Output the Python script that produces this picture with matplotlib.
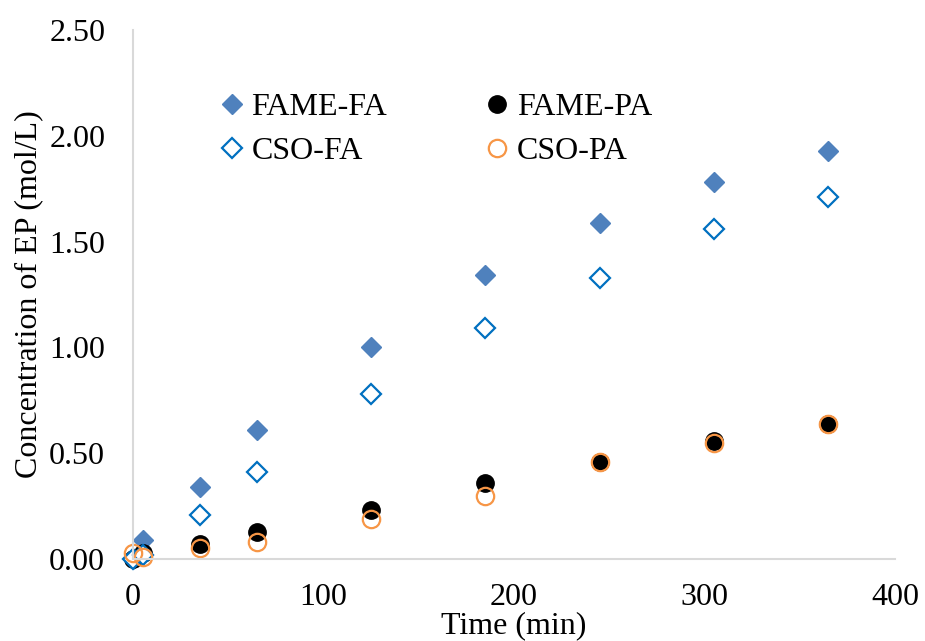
import matplotlib.pyplot as plt
import numpy as np

plt.rcParams['font.family'] = ['Liberation Serif', 'DejaVu Serif']

time = [0, 5, 35, 65, 125, 185, 245, 305, 365]
fame_fa = [0.00, 0.09, 0.34, 0.61, 1.00, 1.34, 1.59, 1.78, 1.93]
fame_pa = [0.00, 0.03, 0.07, 0.13, 0.23, 0.36, 0.46, 0.56, 0.64]
cso_fa = [0.00, 0.02, 0.21, 0.41, 0.78, 1.09, 1.33, 1.56, 1.71]
cso_pa = [0.03, 0.01, 0.05, 0.08, 0.19, 0.30, 0.46, 0.55, 0.64]

fig = plt.figure(figsize=(9.25, 6.41), dpi=100)
ax = fig.add_axes([0.1438, 0.1279, 0.8238, 0.8253])

h1, = ax.plot(time, fame_fa, 'D', ms=10, color='#4F81BD', label='FAME-FA', clip_on=False)
h2, = ax.plot(time, fame_pa, 'o', ms=12.5, color='black', label='FAME-PA', clip_on=False)
h3, = ax.plot(time, cso_fa, 'D', ms=10, mfc='white', mec='#0070C0', mew=1.6, label='CSO-FA', clip_on=False)
h4, = ax.plot(time, cso_pa, 'o', ms=12.5, mfc='none', mec='#F79646', mew=1.6, label='CSO-PA', clip_on=False)

ax.set_xlim(0, 400)
ax.set_ylim(0, 2.5)
ax.set_xticks(np.arange(0, 401, 100))
ax.set_yticks(np.arange(0, 2.51, 0.5))
ax.set_yticklabels([f'{v:.2f}' for v in np.arange(0, 2.51, 0.5)])
ax.tick_params(length=0, labelsize=23)
ax.tick_params(axis='y', pad=20)
ax.tick_params(axis='x', pad=17)

for s in ['top', 'right']:
    ax.spines[s].set_visible(False)
for s in ['left', 'bottom']:
    ax.spines[s].set_color('#D9D9D9')
    ax.spines[s].set_linewidth(1.5)

ax.set_xlabel('Time (min)', fontsize=23, labelpad=0)
ax.set_ylabel('Concentration of EP (mol/L)', fontsize=23, labelpad=4)

ax.legend([h1, h3, h2, h4], ['FAME-FA', 'CSO-FA', 'FAME-PA', 'CSO-PA'],
          ncol=2, frameon=False, fontsize=23, loc='upper left',
          bbox_to_anchor=(0.08, 0.935), handlelength=0.6, handletextpad=0.3,
          columnspacing=3.15, labelspacing=0.45)

plt.savefig('out.png', dpi=100)
